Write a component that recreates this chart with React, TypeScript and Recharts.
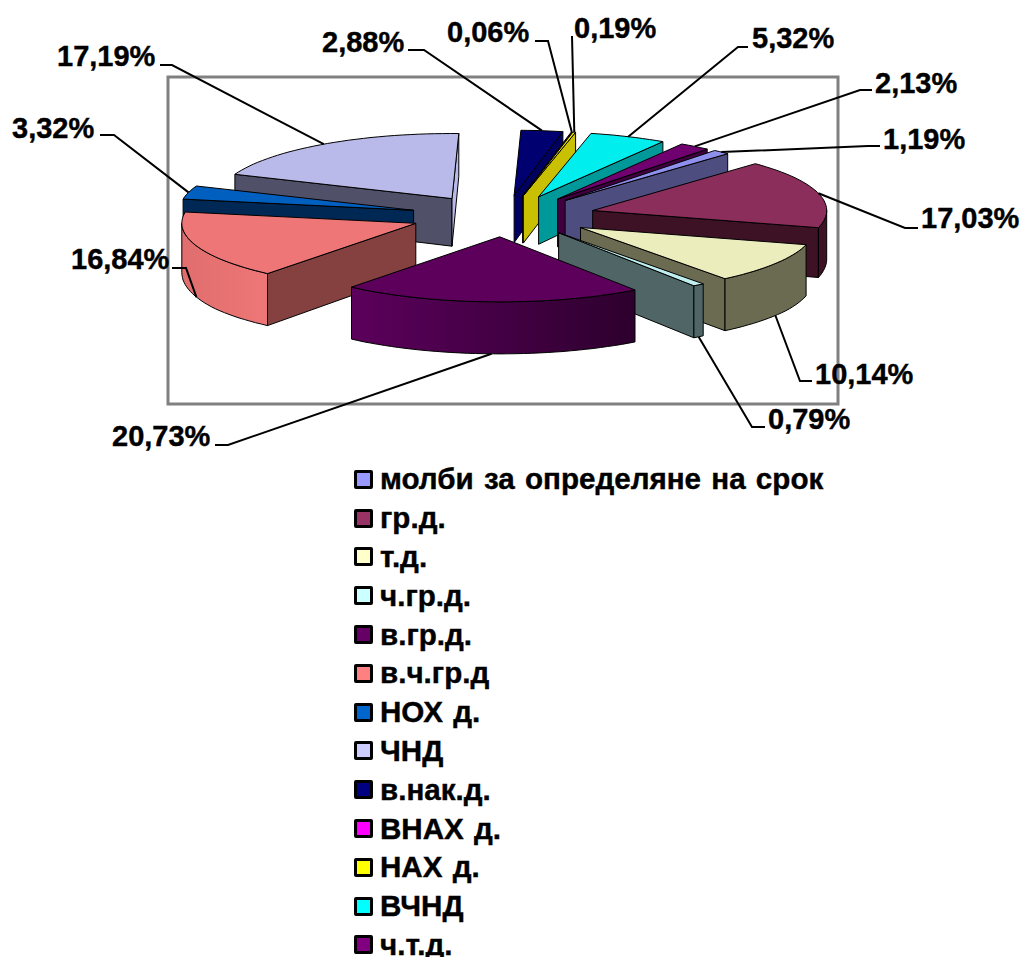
import React from "react";
import { PieChart, Pie, Legend } from "recharts";

const categories = ["молби за определяне на срок","гр.д.","т.д.","ч.гр.д.","в.гр.д.","в.ч.гр.д","НОХ д.","ЧНД","в.нак.д.","ВНАХ д.","НАХ д.","ВЧНД","ч.т.д."];
// Slice shares (ЧНД is drawn wider than its printed label).
const shares = [1.19,17.03,10.14,0.79,20.73,16.84,3.32,19.38,2.88,0.06,0.19,5.32,2.13];
const labelTexts = ["1,19%","17,03%","10,14%","0,79%","20,73%","16,84%","3,32%","17,19%","2,88%","0,06%","0,19%","5,32%","2,13%"];
const legendColors = ["#9999ff","#993366","#ffffcc","#ccffff","#660066","#ff8080","#0066cc","#ccccff","#000080","#ff00ff","#ffff00","#00ffff","#800080"];
const topColors = ["#8f8fee","#8c2e5c","#ecedbd","#bfeeee","#5c005c","#ee7676","#005fbf","#b9b9ea","#000070","#ee00ee","#eeee00","#00eeee","#700070"];
const startFace = ["#4d4d80","#3d1224","#6b6b52","#506666","#2d002d","#854040","#002855","#505068","#000060","#800080","#c8c000","#009999","#400040"];
const endFace = ["#4d4d80","#3d1224","#6b6b52","#506666","#2d002d","#854040","#002855","#b9b9ea","#000060","#800080","#c8c000","#009999","#400040"];
const outerFrom = ["#4d4d80","#3d1224","#6b6b52","#506666","#5c005c","#e06e6e","#002855","#505068","#000060","#800080","#c8c000","#009999","#400040"];
const outerTo = ["#4d4d80","#3d1224","#6b6b52","#506666","#2d002d","#ee7676","#002855","#505068","#000060","#800080","#c8c000","#009999","#400040"];
const drawOrder = [7,6,5,8,9,10,11,12,0,1,2,3,4];
// text x, baseline y, stub end near text, stub end toward the pie, stub y
const labelLayout = [
  [883,149,880,868,146],[921,228,918,905,228],[815,384,812,800,381],[768,429,765,752,427],
  [112,446,215,228,445],[71,269,172,186,268],[12,138,100,114,135],[57,66,160,172,65],
  [322,52,408,424,50],[447,42,535,548,41],[574,38,572,572,36],[752,48,748,738,47],[875,93,872,860,90],
];

const rows = categories.map((name, i) => ({ name, value: shares[i] }));
const FONT = "'Liberation Sans', Arial, sans-serif";
const FLAT = 0.278, EXPLODE = 93, EXPLODE_FLAT = 0.224;
const START = 50.25;
const rad = (d: number) => (d * Math.PI) / 180;
const wallH = (y: number) => Math.min(52, 47 + (y - 190) * 0.075);

function geo(p: any) {
  const s = 90 - p.startAngle;
  const e = 90 - p.endAngle;
  const m = (s + e) / 2;
  const ax = p.cx + EXPLODE * Math.sin(rad(m));
  const ay = p.cy - EXPLODE * EXPLODE_FLAT * Math.cos(rad(m));
  const at = (t: number) => [ax + p.outerRadius * Math.sin(rad(t)), ay - p.outerRadius * FLAT * Math.cos(rad(t))];
  return { s, e, m, ax, ay, at };
}
const pts = (l: number[][]) => l.map((q, i) => (i ? "L" : "M") + q[0].toFixed(1) + " " + q[1].toFixed(1)).join(" ");

function sliceShape(index: number) {
  return (p: any) => {
    if (p.index !== index && p.tooltipPayload?.[0]?.name !== categories[index]) return null as any;
    const { s, e, ax, ay, at } = geo(p);
    const arc: number[][] = [];
    const n = Math.max(2, Math.ceil((e - s) / 2));
    for (let i = 0; i <= n; i++) arc.push(at(s + ((e - s) * i) / n));
    const down = (q: number[]) => [q[0], q[1] + wallH(q[1])];
    const apex = [ax, ay];
    const faces: React.ReactNode[] = [];
    const style = { stroke: "#000", strokeWidth: 1, strokeLinejoin: "round" as const };
    const ss = Math.sin(rad(s)), se = Math.sin(rad(e));
    const outerStart = Math.max(s, 90), outerEnd = Math.min(e, 270);
    const radial = (t: number, fill: string, key: string) => {
      const o = at(t);
      faces.push(<path key={key} d={pts([apex, o, down(o), down(apex)]) + " Z"} fill={fill} {...style} />);
    };
    if (ss < 0) radial(s, startFace[index], "s");
    if (se > 0) radial(e, endFace[index], "e");
    if (outerEnd > outerStart) {
      const top: number[][] = [];
      const c = Math.max(2, Math.ceil((outerEnd - outerStart) / 2));
      for (let i = 0; i <= c; i++) top.push(at(outerStart + ((outerEnd - outerStart) * i) / c));
      const bottom = top.map(down).reverse();
      faces.push(<path key="o" d={pts([...top, ...bottom]) + " Z"} fill={`url(#outer${index})`} {...style} />);
    }
    return (
      <g>
        {faces}
        <path d={pts([apex, ...arc]) + " Z"} fill={topColors[index]} {...style} />
      </g>
    );
  };
}

function renderLabel(p: any) {
  const i = p.index;
  const { m, at } = geo(p);
  const o = at(m);
  const t = ((m % 360) + 360) % 360;
  const anchor = t > 90 && t < 270 ? [o[0], o[1] + wallH(o[1])] : o;
  const [tx, by, near, far, sy] = labelLayout[i];
  return (
    <g>
      <polyline points={`${near},${sy} ${far},${sy} ${anchor[0].toFixed(1)},${anchor[1].toFixed(1)}`} fill="none" stroke="#000" strokeWidth={2} />
      <text x={tx} y={by} fontFamily={FONT} fontSize={29} fontWeight="bold" fill="#000" stroke="#000" strokeWidth={0.4}>{labelTexts[i]}</text>
    </g>
  );
}

function LegendList() {
  return (
    <div style={{ position: "absolute", left: 354, top: 460, fontFamily: FONT, fontSize: 29.6, fontWeight: "bold", color: "#000", wordSpacing: 2, WebkitTextStroke: "0.4px #000" }}>
      {categories.map((c, i) => (
        <div key={c} style={{ height: 38.8, display: "flex", alignItems: "center", whiteSpace: "nowrap" }}>
          <span style={{ display: "inline-block", width: 13, height: 13, background: legendColors[i], border: "3px solid #000", borderRadius: 2, marginRight: 7 }} />
          {c}
        </div>
      ))}
    </div>
  );
}

export default function App() {
  return (
    <div style={{ position: "absolute", left: 0, top: 0, width: 1023, height: 957, overflow: "hidden", background: "#fff" }}>
      <PieChart width={1023} height={957} margin={{ top: 0, right: 0, bottom: 0, left: 0 }}>
        <defs>
          {categories.map((_, i) => (
            <linearGradient key={i} id={`outer${i}`} x1="0" y1="0" x2="1" y2="0">
              <stop offset="0" stopColor={outerFrom[i]} />
              <stop offset="1" stopColor={outerTo[i]} />
            </linearGradient>
          ))}
        </defs>
        <rect x={168} y={77} width={670} height={327} fill="none" stroke="#808080" strokeWidth={3} />
        {drawOrder.map((idx) => (
          <Pie key={idx} data={rows} dataKey="value" nameKey="name" cx={503} cy={216} outerRadius={234} startAngle={START} endAngle={START - 360}
            isAnimationActive={false} shape={sliceShape(idx)} />
        ))}
        <Pie data={rows} dataKey="value" nameKey="name" cx={503} cy={216} outerRadius={234} startAngle={START} endAngle={START - 360}
          isAnimationActive={false} shape={() => null as any} label={renderLabel} labelLine={false} />
        <Legend content={() => <LegendList />} wrapperStyle={{ position: "absolute", left: 0, top: 0, width: 0, height: 0 }} />
      </PieChart>
    </div>
  );
}
